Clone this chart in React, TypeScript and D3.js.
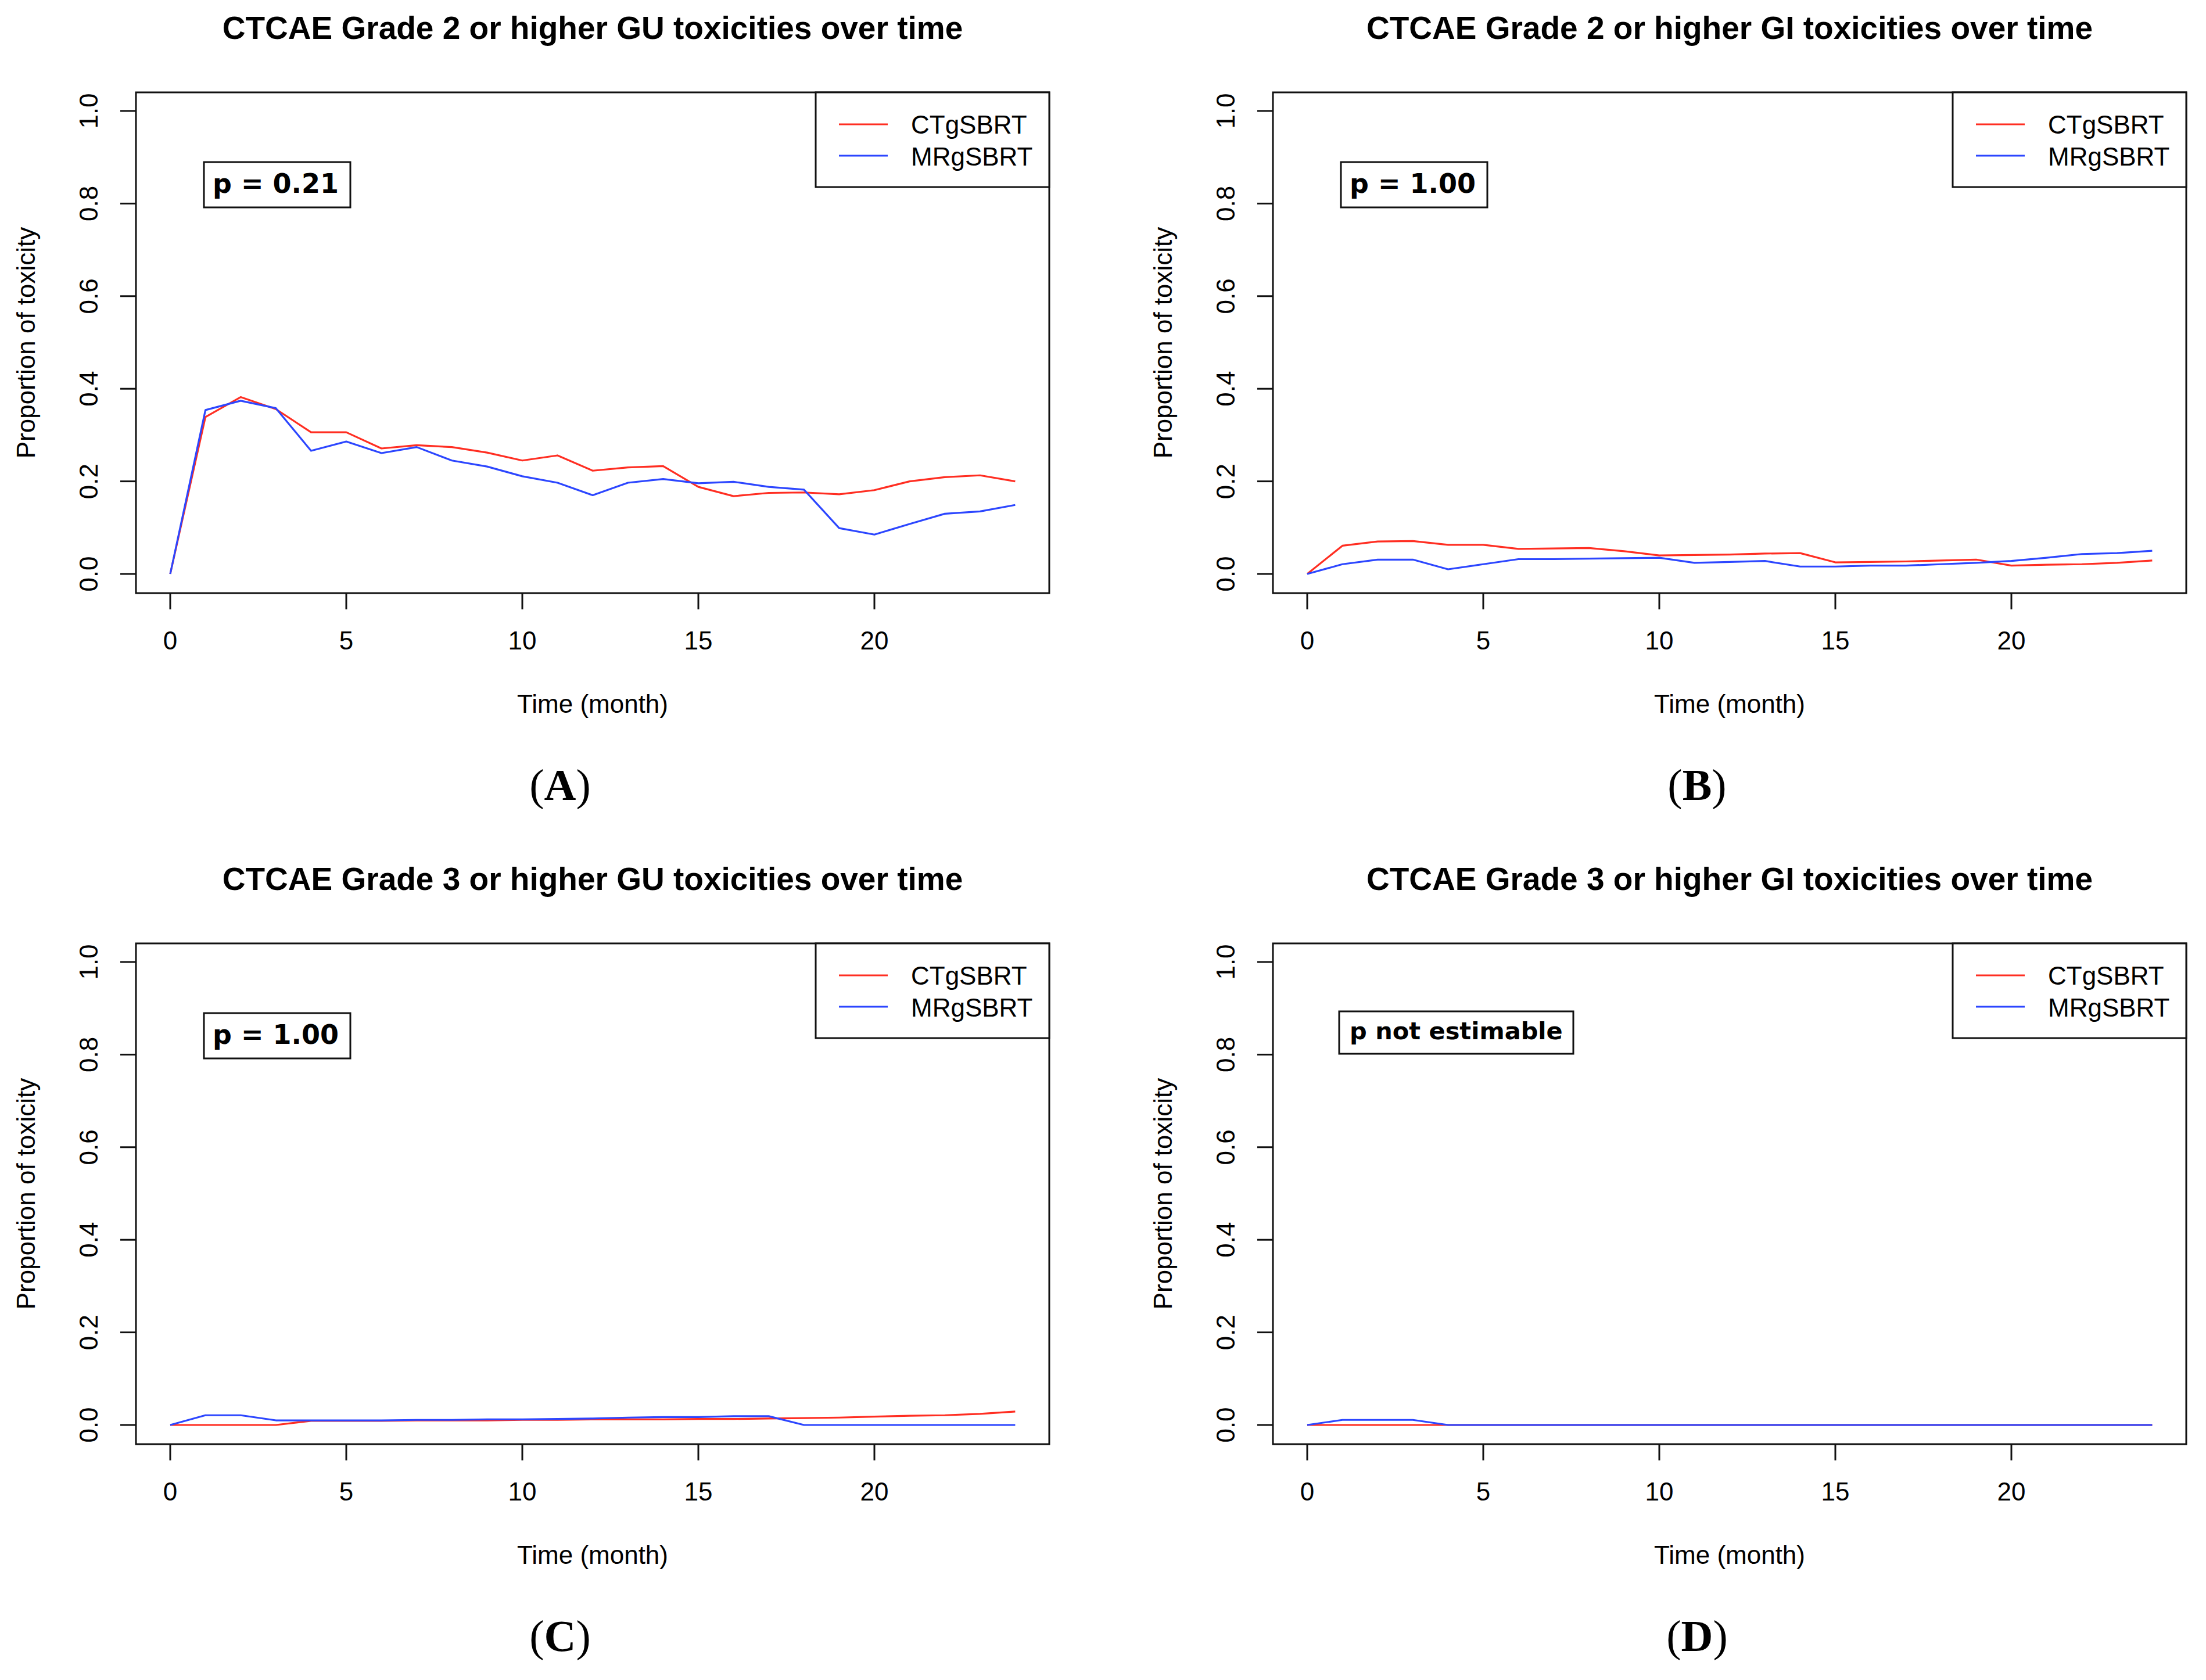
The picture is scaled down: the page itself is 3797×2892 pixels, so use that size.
import React from "react";
import * as d3 from "d3";

// months 0..24
const MONTHS = [0, 1, 2, 3, 4, 5, 6, 7, 8, 9, 10, 11, 12, 13, 14, 15, 16, 17, 18, 19, 20, 21, 22, 23, 24];
const X_TICKS = [0, 5, 10, 15, 20];
const Y_TICKS = [0, 0.2, 0.4, 0.6, 0.8, 1.0];
const SERIES = ["CTgSBRT", "MRgSBRT"];

// (A) Grade >= 2 GU
const GU2_CT = [0, 0.339, 0.382, 0.356, 0.306, 0.306, 0.271, 0.278, 0.274, 0.262, 0.245, 0.256, 0.223, 0.23, 0.233, 0.188, 0.168, 0.175, 0.176, 0.172, 0.181, 0.2, 0.209, 0.213, 0.2];
const GU2_MR = [0, 0.354, 0.374, 0.358, 0.266, 0.286, 0.261, 0.274, 0.245, 0.232, 0.211, 0.197, 0.17, 0.197, 0.205, 0.196, 0.199, 0.188, 0.182, 0.099, 0.085, 0.108, 0.13, 0.135, 0.149];
// (B) Grade >= 2 GI
const GI2_CT = [0, 0.061, 0.07, 0.071, 0.063, 0.063, 0.054, 0.055, 0.056, 0.049, 0.04, 0.041, 0.042, 0.044, 0.045, 0.025, 0.026, 0.027, 0.029, 0.031, 0.018, 0.02, 0.021, 0.024, 0.029];
const GI2_MR = [0, 0.021, 0.031, 0.031, 0.01, 0.021, 0.032, 0.032, 0.033, 0.034, 0.035, 0.024, 0.026, 0.028, 0.016, 0.016, 0.018, 0.018, 0.021, 0.024, 0.028, 0.035, 0.043, 0.045, 0.05];
// (C) Grade >= 3 GU
const GU3_CT = [0, 0, 0, 0, 0.009, 0.009, 0.009, 0.01, 0.01, 0.01, 0.011, 0.011, 0.012, 0.012, 0.012, 0.013, 0.013, 0.014, 0.015, 0.016, 0.018, 0.02, 0.021, 0.024, 0.029];
const GU3_MR = [0, 0.021, 0.021, 0.01, 0.01, 0.01, 0.01, 0.011, 0.011, 0.012, 0.012, 0.013, 0.014, 0.016, 0.017, 0.017, 0.019, 0.019, 0, 0, 0, 0, 0, 0, 0];
// (D) Grade >= 3 GI
const GI3_CT = [0, 0, 0, 0, 0, 0, 0, 0, 0, 0, 0, 0, 0, 0, 0, 0, 0, 0, 0, 0, 0, 0, 0, 0, 0];
const GI3_MR = [0, 0.011, 0.011, 0.011, 0, 0, 0, 0, 0, 0, 0, 0, 0, 0, 0, 0, 0, 0, 0, 0, 0, 0, 0, 0, 0];

const TITLES = [
  "CTCAE Grade 2 or higher GU toxicities over time",
  "CTCAE Grade 2 or higher GI toxicities over time",
  "CTCAE Grade 3 or higher GU toxicities over time",
  "CTCAE Grade 3 or higher GI toxicities over time",
];
const LETTERS = ["A", "B", "C", "D"];
const P_TEXTS = ["p = 0.21", "p = 1.00", "p = 1.00", "p not estimable"];

const WIDTH = 3797;
const HEIGHT = 2892;
const DX = 1957;
const DY = 1465;

const BOX = { LEFT: 234, RIGHT: 1806, TOP: 159, BOTTOM: 1021 };
const COLORS = ["#ff2e22", "#2c46ff"];
const SANS = "'Liberation Sans', Arial, Helvetica, sans-serif";
const FONT = 44;

const x = d3.scaleLinear().domain([0, 24]).range([293, 293 + 24 * 60.6]);
const y = d3.scaleLinear().domain([0, 1]).range([988, 191]);

const line = d3
  .line<number>()
  .x((_, i) => x(MONTHS[i]))
  .y((d) => y(d));

interface PanelProps {
  title: string;
  letter: string;
  pText: string;
  ct: number[];
  mr: number[];
  ox: number;
  oy: number;
}

const Panel = ({ title, letter, pText, ct, mr, ox, oy }: PanelProps) => {
  const cx = (BOX.LEFT + BOX.RIGHT) / 2;
  const cy = (BOX.TOP + BOX.BOTTOM) / 2;
  const wide = pText.length > 10;
  return (
    <g transform={`translate(${ox}, ${oy})`}>
      <text x={cx} y={67} textAnchor="middle" fontFamily={SANS} fontWeight="bold" fontSize={55}>
        {title}
      </text>

      {/* plot lines */}
      <path d={line(ct) || ""} fill="none" stroke={COLORS[0]} strokeWidth={3.2} strokeLinejoin="round" />
      <path d={line(mr) || ""} fill="none" stroke={COLORS[1]} strokeWidth={3.2} strokeLinejoin="round" />

      <rect
        x={BOX.LEFT}
        y={BOX.TOP}
        width={BOX.RIGHT - BOX.LEFT}
        height={BOX.BOTTOM - BOX.TOP}
        fill="none"
        stroke="#111"
        strokeWidth={3}
      />

      {/* x axis */}
      {X_TICKS.map((t) => (
        <g key={`x${t}`}>
          <line x1={x(t)} x2={x(t)} y1={BOX.BOTTOM} y2={BOX.BOTTOM + 28} stroke="#111" strokeWidth={3} />
          <text x={x(t)} y={1118} textAnchor="middle" fontFamily={SANS} fontSize={FONT}>
            {t}
          </text>
        </g>
      ))}
      <text x={cx} y={1227} textAnchor="middle" fontFamily={SANS} fontSize={FONT}>
        Time (month)
      </text>

      {/* y axis */}
      {Y_TICKS.map((t) => (
        <g key={`y${t}`}>
          <line x1={BOX.LEFT - 27} x2={BOX.LEFT} y1={y(t)} y2={y(t)} stroke="#111" strokeWidth={3} />
          <text
            transform={`translate(168, ${y(t)}) rotate(-90)`}
            textAnchor="middle"
            fontFamily={SANS}
            fontSize={FONT}
          >
            {t.toFixed(1)}
          </text>
        </g>
      ))}
      <text
        transform={`translate(60, ${cy}) rotate(-90)`}
        textAnchor="middle"
        fontFamily={SANS}
        fontSize={FONT}
      >
        Proportion of toxicity
      </text>

      {/* legend */}
      <rect x={1404} y={BOX.TOP} width={BOX.RIGHT - 1404} height={322 - BOX.TOP} fill="white" stroke="#111" strokeWidth={3} />
      {SERIES.map((s, i) => (
        <g key={s}>
          <line x1={1444} x2={1528} y1={214 + i * 54} y2={214 + i * 54} stroke={COLORS[i]} strokeWidth={3.2} />
          <text x={1568} y={230 + i * 55} fontFamily={SANS} fontSize={FONT}>
            {s}
          </text>
        </g>
      ))}

      {/* p value box */}
      <rect
        x={wide ? 348 : 351}
        y={wide ? 276 : 279}
        width={wide ? 403 : 252}
        height={wide ? 73 : 78}
        fill="white"
        stroke="#111"
        strokeWidth={3}
      />
      <text
        x={wide ? 366 : 366}
        y={wide ? 324 : 332}
        fontFamily="'DejaVu Sans', Verdana, sans-serif"
        fontWeight="bold"
        fontSize={wide ? 41.5 : 46}
      >
        {pText}
      </text>

      {/* panel letter */}
      <text x={964} y={1377} textAnchor="middle" fontFamily="'Liberation Serif', 'Times New Roman', serif" fontSize={76}>
        (<tspan fontWeight="bold">{letter}</tspan>)
      </text>
    </g>
  );
};

const App = () => {
  const data = [
    [GU2_CT, GU2_MR],
    [GI2_CT, GI2_MR],
    [GU3_CT, GU3_MR],
    [GI3_CT, GI3_MR],
  ];
  return (
    <svg
      width={WIDTH}
      height={HEIGHT}
      style={{ position: "absolute", left: 0, top: 0, background: "white" }}
    >
      <rect width={WIDTH} height={HEIGHT} fill="white" />
      {TITLES.map((t, i) => (
        <Panel
          key={t}
          title={t}
          letter={LETTERS[i]}
          pText={P_TEXTS[i]}
          ct={data[i][0]}
          mr={data[i][1]}
          ox={(i % 2) * DX}
          oy={Math.floor(i / 2) * DY}
        />
      ))}
    </svg>
  );
};

export default App;
